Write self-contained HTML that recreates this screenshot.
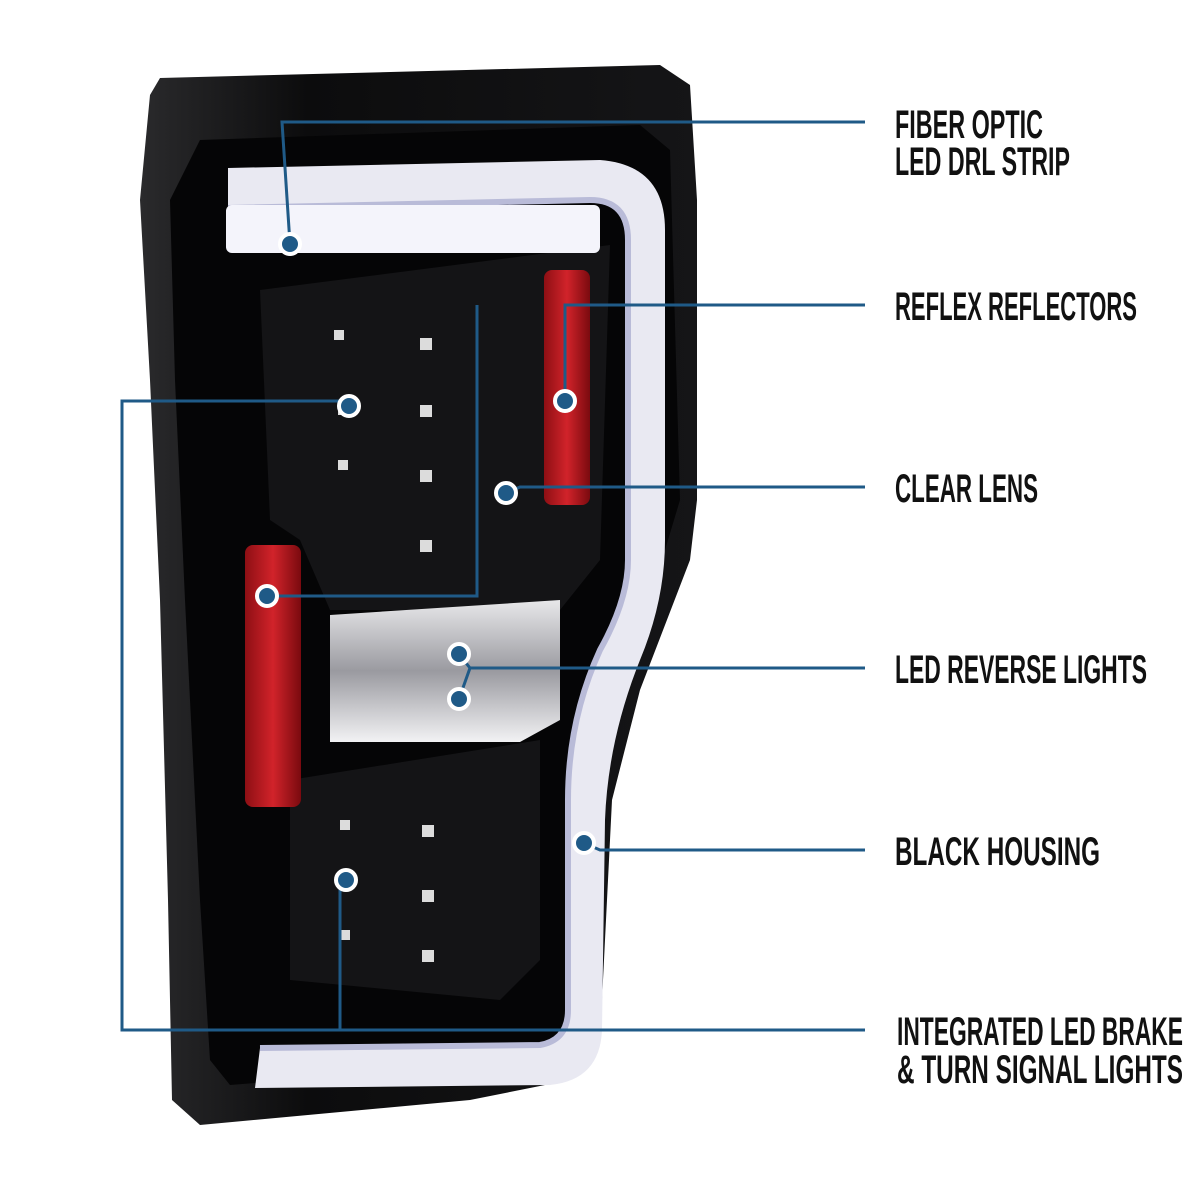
<!DOCTYPE html>
<html><head><meta charset="utf-8"><style>
html,body{margin:0;padding:0;background:#fff;}
svg{display:block}
.t{font-family:"Liberation Sans",sans-serif;font-weight:bold;font-size:40px;fill:#111;}
</style></head><body>
<svg width="1200" height="1200" viewBox="0 0 1200 1200" xmlns="http://www.w3.org/2000/svg">
<defs>
<linearGradient id="hs" x1="0" x2="1"><stop offset="0" stop-color="#2a2a2c"/><stop offset="0.3" stop-color="#0c0c0d"/><stop offset="1" stop-color="#151517"/></linearGradient>
<linearGradient id="red" x1="0" x2="1"><stop offset="0" stop-color="#8e0f14"/><stop offset="0.5" stop-color="#d1232a"/><stop offset="1" stop-color="#7a0a0f"/></linearGradient>
<linearGradient id="lens" x1="0" y1="0" x2="0" y2="1"><stop offset="0" stop-color="#e8e8ea"/><stop offset="0.5" stop-color="#9a9aa0"/><stop offset="1" stop-color="#f2f2f4"/></linearGradient>
</defs>
<path d="M150 95 L160 78 L660 65 L690 85 L697 200 L697 500 L690 560 L640 690 L612 800 L600 1040 L570 1080 L470 1100 L200 1125 L172 1100 L168 900 L160 600 L150 380 L140 200 Z" fill="url(#hs)"/>
<path d="M200 140 L640 125 L670 150 L680 500 L650 600 L610 700 L585 820 L575 1030 L540 1060 L230 1085 L210 1060 L200 900 L185 600 L175 380 L170 200 Z" fill="#050506"/>
<path d="M260 290 L610 245 L600 560 L560 610 L330 610 L300 540 L270 520 Z" fill="#141416"/>
<path d="M290 780 L540 740 L540 960 L500 1000 L290 980 Z" fill="#141416"/>
<path d="M228 208 L590 200 Q628 200 628 240 L628 560 Q628 600 600 650 Q568 720 568 800 L568 1010 Q568 1040 540 1045 L260 1048 L255 1088 L550 1085 Q600 1080 602 1030 L605 820 Q608 740 640 660 Q665 600 665 540 L665 230 Q665 165 600 160 L228 168 Z" fill="#e9e9f2"/>
<path d="M228 208 L590 200 Q628 200 628 240 L628 560 Q628 600 600 650 Q568 720 568 800 L568 1010 Q568 1040 540 1045 L260 1048" fill="none" stroke="#b9bbd8" stroke-width="6"/>
<rect x="226" y="205" width="374" height="48" rx="6" fill="#f4f4fb"/>
<rect x="544" y="270" width="46" height="235" rx="8" fill="url(#red)"/>
<rect x="245" y="545" width="56" height="262" rx="8" fill="url(#red)"/>
<path d="M330 615 L560 600 L560 720 L520 742 L330 742 Z" fill="url(#lens)"/>
<g fill="#dcdcdc">
<rect x="334" y="330" width="10" height="10"/><rect x="420" y="338" width="12" height="12"/>
<rect x="338" y="405" width="10" height="10"/><rect x="420" y="405" width="12" height="12"/>
<rect x="338" y="460" width="10" height="10"/><rect x="420" y="470" width="12" height="12"/>
<rect x="420" y="540" width="12" height="12"/>
<rect x="340" y="820" width="10" height="10"/><rect x="422" y="825" width="12" height="12"/>
<rect x="340" y="930" width="10" height="10"/><rect x="422" y="890" width="12" height="12"/>
<rect x="422" y="950" width="12" height="12"/>
</g>
<g stroke="#1f5a87" stroke-width="3" fill="none">
<polyline points="290,244 282,122 865,122"/>
<polyline points="565,401 565,305 865,305"/>
<polyline points="267,596 477,596 477,305"/>
<polyline points="506,493 520,487 865,487"/>
<polyline points="459,654 470,668 865,668"/>
<polyline points="459,699 470,668"/>
<polyline points="584,843 600,850 865,850"/>
<polyline points="349,401 122,401 122,1030 865,1030"/>
<polyline points="346,880 340,880 340,1030"/>
</g>
<g fill="#1f5a87" stroke="#fff" stroke-width="4">
<circle cx="290" cy="244" r="10"/><circle cx="565" cy="401" r="10"/><circle cx="267" cy="596" r="10"/>
<circle cx="506" cy="493" r="10"/><circle cx="459" cy="654" r="10"/><circle cx="459" cy="699" r="10"/>
<circle cx="584" cy="843" r="10"/><circle cx="349" cy="406" r="10"/><circle cx="346" cy="880" r="10"/>
</g>
<text class="t" x="895" y="138" textLength="148" lengthAdjust="spacingAndGlyphs">FIBER OPTIC</text>
<text class="t" x="895" y="175" textLength="175" lengthAdjust="spacingAndGlyphs">LED DRL STRIP</text>
<text class="t" x="895" y="320" textLength="242" lengthAdjust="spacingAndGlyphs">REFLEX REFLECTORS</text>
<text class="t" x="895" y="502" textLength="143" lengthAdjust="spacingAndGlyphs">CLEAR LENS</text>
<text class="t" x="895" y="683" textLength="252" lengthAdjust="spacingAndGlyphs">LED REVERSE LIGHTS</text>
<text class="t" x="895" y="865" textLength="205" lengthAdjust="spacingAndGlyphs">BLACK HOUSING</text>
<text class="t" x="897" y="1045" textLength="286" lengthAdjust="spacingAndGlyphs">INTEGRATED LED BRAKE</text>
<text class="t" x="897" y="1083" textLength="286" lengthAdjust="spacingAndGlyphs">&amp; TURN SIGNAL LIGHTS</text>
</svg>
</body></html>
